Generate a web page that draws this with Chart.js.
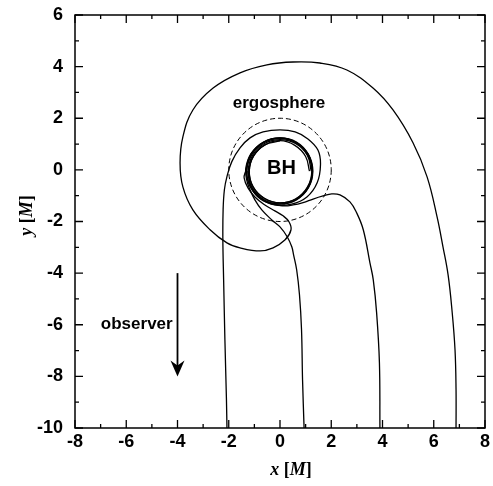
<!DOCTYPE html>
<html>
<head>
<meta charset="utf-8">
<script src="https://cdn.jsdelivr.net/npm/chart.js@4.4.0/dist/chart.umd.min.js"></script>
<style>
  body { margin: 0; background: #fff; }
  #wrap { width: 493px; height: 486px; }
</style>
</head>
<body>
<div id="wrap"><canvas id="geo" width="493" height="486"></canvas></div>
<script>
// Photon trajectories around the hole, coordinates in units of M.
// Each ray comes up from y = -10 and ends up winding round the hole.
const rayAx = [-2.07, -2.09, -2.15, -2.20, -2.23, -2.22, -2.17, -2.07, -1.88, -1.56,
  -1.17, -0.66, 0.00, 0.59, 1.09, 1.48, 1.58, 1.45, 1.05, 0.45,
  -0.20, -0.75, -1.15, -1.30, -1.10, -0.64, 0.00, 0.64, 1.10, 1.27,
  1.10, 0.64, 0.00, -0.64, -1.10, -1.25];
const rayAy = [-10.0, -8.90, -6.58, -4.26, -2.71, -1.55, -0.77, -0.26, 0.32, 0.85,
  1.24, 1.47, 1.55, 1.47, 1.20, 0.77, 0.20, -0.50, -1.05, -1.33,
  -1.36, -1.12, -0.65, -0.05, 0.59, 1.05, 1.22, 1.05, 0.59, -0.05,
  -0.69, -1.15, -1.32, -1.15, -0.69, -0.05];

const rayBx = [0.94, 0.88, 0.84, 0.76, 0.65, 0.53, 0.46, 0.28, 0.00, -0.32,
  -0.71, -0.98, -1.17, -1.30, -1.33, -1.12, -0.64, 0.00, 0.64, 1.11,
  1.28, 1.11, 0.64, 0.00, -0.64, -1.10, -1.24, -1.07, -0.62, 0.00,
  0.62, 1.07, 1.22];
const rayBy = [-10.0, -8.13, -6.19, -4.84, -3.87, -3.29, -2.98, -2.59, -2.21, -1.94,
  -1.55, -1.16, -0.77, -0.39, 0.10, 0.64, 1.08, 1.24, 1.08, 0.60,
  -0.05, -0.69, -1.16, -1.33, -1.16, -0.68, -0.05, 0.56, 1.01, 1.17,
  1.01, 0.56, -0.05];

const rayCx = [3.90, 3.88, 3.77, 3.64, 3.51, 3.25, 2.99, 2.73, 2.34, 2.02,
  1.68, 1.29, 0.90, 0.51, 0.12, -0.66, -1.13, -1.30, -1.12, -0.64,
  0.00, 0.63, 1.08, 1.24, 1.07, 0.62, 0.00, -0.61, -1.05, -1.20,
  -1.03, -0.59, 0.00, 0.58, 1.00, 1.15];
const rayCy = [-10.0, -7.47, -5.53, -4.26, -3.60, -2.32, -1.66, -1.24, -0.97, -0.93,
  -1.01, -1.13, -1.27, -1.36, -1.39, -1.19, -0.71, -0.05, 0.60, 1.06,
  1.22, 1.04, 0.57, -0.05, -0.67, -1.12, -1.28, -1.10, -0.66, -0.05,
  0.54, 0.97, 1.13, 0.95, 0.52, -0.05];

const rayDx = [6.87, 6.87, 6.83, 6.71, 6.56, 6.36, 6.13, 5.74, 5.19, 4.41,
  3.63, 2.61, 1.56, 0.51, -0.51, -1.56, -2.61, -3.40, -3.79, -3.90,
  -3.79, -3.40, -2.73, -2.07, -1.56, -0.78, -0.27, 0.20, 0.43, 0.35,
  0.12, -0.20, -0.59, -0.98, -1.25, -1.40, -1.34, -1.14, -0.65, 0.00,
  0.64, 1.10, 1.26, 1.08, 0.62, 0.00, -0.61, -1.05, -1.20, -1.03,
  -0.59, 0.00];
const rayDy = [-10.0, -8.52, -6.97, -5.42, -4.07, -2.98, -1.82, -0.27, 1.05, 2.32,
  3.17, 3.87, 4.14, 4.18, 4.07, 3.76, 3.17, 2.32, 1.28, 0.27,
  -0.66, -1.55, -2.32, -2.83, -3.02, -3.14, -3.02, -2.71, -2.32, -2.01,
  -1.78, -1.59, -1.36, -1.05, -0.70, -0.31, -0.05, 0.61, 1.07, 1.24,
  1.06, 0.59, -0.05, -0.68, -1.13, -1.28, -1.11, -0.66, -0.05, 0.54,
  0.97, 1.12];

// Ergosphere radius (equatorial plane) and the observer arrow
const ergoRadius = 2;
const arrowX = -4;
const arrowFromY = -4;
const arrowToY = -8;

// Annotations: text and where it sits (data units)
const noteText = ['ergosphere', 'BH', 'observer'];
const noteX = [-0.04, 0.06, -5.59];
const noteY = [2.56, 0.04, -6.0];
const noteSize = [17, 20, 17];

const xTicks = [-8, -6, -4, -2, 0, 2, 4, 6, 8];
const yTicks = [-10, -8, -6, -4, -2, 0, 2, 4, 6];

const SANS = '"Liberation Sans", Arial, sans-serif';
const SERIF = '"Liberation Serif", "Times New Roman", serif';

function toPoints(xs, ys) {
  return xs.map((x, i) => ({ x: x, y: ys[i] }));
}

function ray(label, xs, ys) {
  return {
    label: label,
    data: toPoints(xs, ys),
    showLine: true,
    borderColor: '#000',
    borderWidth: 1.3,
    pointRadius: 0,
    tension: 0.4,
    fill: false
  };
}

// Draws text pieces in sequence, each with its own font
function drawRich(ctx, parts, x, y) {
  let total = 0;
  for (let p of parts) {
    ctx.font = p.font;
    total += ctx.measureText(p.text).width;
  }
  let cx = x - total / 2;
  for (let p of parts) {
    ctx.font = p.font;
    ctx.fillText(p.text, cx, y);
    cx += ctx.measureText(p.text).width;
  }
}

const decorations = {
  id: 'decorations',
  afterDatasetsDraw(chart) {
    const ctx = chart.ctx;
    const xs = chart.scales.x;
    const ys = chart.scales.y;
    const area = chart.chartArea;
    ctx.save();

    // Ergosphere, dashed
    const cx = xs.getPixelForValue(0);
    const cy = ys.getPixelForValue(0);
    const rx = xs.getPixelForValue(ergoRadius) - cx;
    const ry = cy - ys.getPixelForValue(ergoRadius);
    ctx.beginPath();
    ctx.setLineDash([5, 3]);
    ctx.lineWidth = 1;
    ctx.strokeStyle = '#000';
    ctx.ellipse(cx, cy, rx, ry, 0, 0, Math.PI * 2);
    ctx.stroke();
    ctx.setLineDash([]);

    // Observer arrow
    const ax = xs.getPixelForValue(arrowX);
    const ay0 = ys.getPixelForValue(arrowFromY);
    const ay1 = ys.getPixelForValue(arrowToY);
    ctx.lineWidth = 1.8;
    ctx.beginPath();
    ctx.moveTo(ax, ay0);
    ctx.lineTo(ax, ay1 - 8);
    ctx.stroke();
    ctx.beginPath();
    ctx.moveTo(ax, ay1);
    ctx.lineTo(ax - 7, ay1 - 16);
    ctx.lineTo(ax, ay1 - 11);
    ctx.lineTo(ax + 7, ay1 - 16);
    ctx.closePath();
    ctx.fillStyle = '#000';
    ctx.fill();

    // Labels in the plot
    ctx.textAlign = 'center';
    ctx.textBaseline = 'middle';
    for (let i = 0; i < noteText.length; i++) {
      ctx.font = 'bold ' + noteSize[i] + 'px ' + SANS;
      ctx.fillText(noteText[i], xs.getPixelForValue(noteX[i]), ys.getPixelForValue(noteY[i]));
    }

    // Frame
    ctx.lineWidth = 1.5;
    ctx.strokeRect(area.left, area.top, area.right - area.left, area.bottom - area.top);

    // Inward ticks on all four sides
    ctx.lineWidth = 1.3;
    ctx.beginPath();
    for (let v = xs.min; v <= xs.max; v++) {
      const p = xs.getPixelForValue(v);
      const len = v % 2 === 0 ? 8 : 4;
      ctx.moveTo(p, area.bottom);
      ctx.lineTo(p, area.bottom - len);
      ctx.moveTo(p, area.top);
      ctx.lineTo(p, area.top + len);
    }
    for (let v = ys.min; v <= ys.max; v++) {
      const p = ys.getPixelForValue(v);
      const len = v % 2 === 0 ? 8 : 4;
      ctx.moveTo(area.left, p);
      ctx.lineTo(area.left + len, p);
      ctx.moveTo(area.right, p);
      ctx.lineTo(area.right - len, p);
    }
    ctx.stroke();

    // Axis titles
    ctx.textAlign = 'left';
    ctx.textBaseline = 'middle';
    const xTitle = [
      { text: 'x', font: 'italic bold 18px ' + SERIF },
      { text: ' [', font: 'bold 18px ' + SERIF },
      { text: 'M', font: 'italic bold 18px ' + SERIF },
      { text: ']', font: 'bold 18px ' + SERIF }
    ];
    drawRich(ctx, xTitle, (area.left + area.right) / 2 + 11, 470);

    ctx.translate(27, (area.top + area.bottom) / 2 - 6);
    ctx.rotate(-Math.PI / 2);
    const yTitle = [
      { text: 'y', font: 'italic bold 18px ' + SERIF },
      { text: ' [', font: 'bold 18px ' + SERIF },
      { text: 'M', font: 'italic bold 18px ' + SERIF },
      { text: ']', font: 'bold 18px ' + SERIF }
    ];
    drawRich(ctx, yTitle, 0, 0);
    ctx.restore();
  }
};

new Chart(document.getElementById('geo'), {
  type: 'scatter',
  data: {
    datasets: [
      ray('ray 1', rayAx, rayAy),
      ray('ray 2', rayBx, rayBy),
      ray('ray 3', rayCx, rayCy),
      ray('ray 4', rayDx, rayDy)
    ]
  },
  options: {
    responsive: false,
    animation: false,
    layout: { padding: { left: 0, top: 15, right: 8, bottom: 0 } },
    plugins: {
      legend: { display: false },
      tooltip: { enabled: false }
    },
    scales: {
      x: {
        type: 'linear',
        min: -8,
        max: 8,
        afterBuildTicks: s => { s.ticks = xTicks.map(v => ({ value: v })); },
        // fixed height, and no extra room for the end labels
        afterFit: s => { s.height = 58; s.paddingLeft = 0; s.paddingRight = 0; },
        grid: { display: false, drawTicks: false },
        border: { display: false },
        ticks: {
          padding: 3,
          color: '#000',
          font: { family: SANS, size: 18, weight: 'bold' },
          maxRotation: 0
        }
      },
      y: {
        type: 'linear',
        min: -10,
        max: 6,
        afterBuildTicks: s => { s.ticks = yTicks.map(v => ({ value: v })); },
        afterFit: s => { s.width = 75; s.paddingTop = 0; s.paddingBottom = 0; },
        grid: { display: false, drawTicks: false },
        border: { display: false },
        ticks: {
          padding: 12,
          color: '#000',
          font: { family: SANS, size: 18, weight: 'bold' }
        }
      }
    }
  },
  plugins: [decorations]
});
</script>
</body>
</html>
